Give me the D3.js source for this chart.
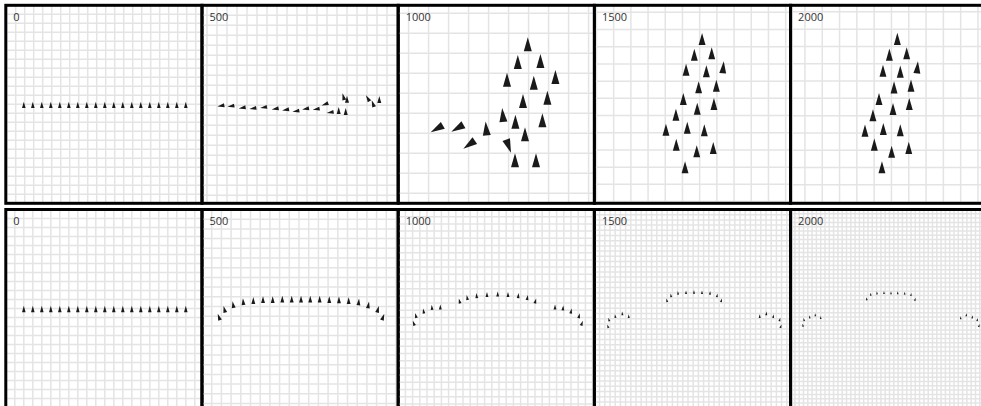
<!DOCTYPE html>
<html>
<head>
<meta charset="utf-8">
<script src="https://cdn.jsdelivr.net/npm/d3@7"></script>
<style>
body { margin: 0; background: #fff; }
</style>
</head>
<body>
<script>
var w = 981;
var h = 406;

// simulation step shown in each column
var steps = [0, 500, 1000, 1500, 2000];

// pixels per grid unit in each panel (top row follows the flock, bottom row is the fixed camera)
var zoomTop = [9, 10, 20, 17.2, 17.3];
var zoomBottom = [9, 9.7, 7.2, 5.2, 4.3];

// where the first grid line sits, as a fraction of a grid unit
var gridShiftTopX = [0.1, 0.5, 0.52, 0.12, 0.83];
var gridShiftTopY = [0, 0, 0.4, 0.41, 0.38];

// boid positions in grid units, measured from the panel's top left corner
var topX = [
  [2, 3, 4, 5, 6, 7, 8, 9, 10, 11, 12, 13, 14, 15, 16, 17, 18, 19, 20],
  [2.00, 3.00, 4.13, 5.20, 6.27, 7.43, 8.47, 9.50, 10.47, 11.53, 12.40, 12.93, 13.67, 14.37, 14.17, 14.50, 16.63, 17.13, 17.73],
  [2.03, 3.06, 3.64, 4.41, 5.24, 5.48, 5.86, 6.34, 5.84, 6.89, 5.44, 5.98, 6.48, 7.11, 6.78, 7.86, 6.24, 7.46, 7.21],
  [6.26, 5.81, 6.82, 5.33, 6.51, 7.48, 6.06, 7.09, 5.17, 5.98, 6.95, 4.74, 4.16, 5.40, 6.39, 4.76, 5.95, 6.91, 5.27],
  [6.17, 5.71, 6.71, 5.34, 6.34, 7.32, 5.98, 6.96, 5.11, 5.92, 6.86, 4.76, 4.30, 5.36, 6.34, 4.84, 5.84, 6.83, 5.28]
];
var topY = [
  [11.19, 11.19, 11.19, 11.19, 11.19, 11.19, 11.19, 11.19, 11.19, 11.19, 11.19, 11.19, 11.19, 11.19, 11.19, 11.19, 11.19, 11.19, 11.19],
  [10.04, 10.07, 10.24, 10.30, 10.20, 10.34, 10.44, 10.57, 10.34, 10.37, 9.87, 10.70, 10.64, 10.74, 9.24, 9.50, 9.40, 9.94, 9.54],
  [6.12, 6.09, 6.90, 6.27, 5.60, 6.94, 5.94, 6.57, 7.87, 7.87, 3.84, 2.95, 2.07, 2.90, 3.99, 3.70, 4.90, 4.74, 5.87],
  [2.08, 2.99, 2.91, 3.86, 3.95, 3.72, 4.88, 4.79, 5.56, 6.13, 5.85, 6.48, 7.35, 7.23, 7.38, 8.22, 8.60, 8.41, 9.53],
  [2.06, 2.97, 2.89, 3.90, 3.95, 3.70, 4.86, 4.76, 5.53, 6.11, 5.82, 6.47, 7.36, 7.27, 7.34, 8.17, 8.58, 8.36, 9.48]
];
// heading in degrees, clockwise from straight up
var topHeading = [
  [0, 0, 0, 0, 0, 0, 0, 0, 0, 0, 0, 0, 0, 0, 0, 0, 0, 0, 0],
  [-100, -100, -100, -100, -100, -100, -100, -100, -100, -100, -110, -100, 0, 0, -15, 0, -30, -20, 0],
  [-120, -120, -125, -5, -5, 160, 0, 0, 0, 0, 0, 0, 0, 0, 0, 0, 0, 0, 0],
  [0, 0, 0, 0, 0, 5, 0, 0, 0, 0, 0, 0, 0, 0, 0, 0, 0, 0, 0],
  [0, 0, 0, 0, 0, 5, 0, 0, 0, 0, 0, 0, 0, 0, 0, 0, 0, 0, 0]
];

var bottomX = [
  [2, 3, 4, 5, 6, 7, 8, 9, 10, 11, 12, 13, 14, 15, 16, 17, 18, 19, 20],
  [1.78, 2.34, 3.23, 4.26, 5.29, 6.29, 7.29, 8.28, 9.25, 10.21, 11.16, 12.13, 13.12, 14.12, 15.12, 16.15, 17.14, 18.11, 18.63],
  [2.19, 2.47, 3.54, 4.69, 5.85, 8.54, 9.60, 10.90, 12.33, 13.82, 15.25, 16.68, 17.93, 19.04, 21.78, 22.89, 24.00, 25.11, 25.49],
  [2.62, 2.81, 4.02, 5.37, 6.60, 13.96, 14.73, 16.08, 17.62, 19.15, 20.69, 22.23, 23.58, 24.40, 31.79, 33.06, 34.40, 35.63, 35.83],
  [2.88, 3.12, 4.44, 5.74, 7.00, 17.70, 18.63, 20.09, 21.72, 23.35, 24.91, 26.53, 28.00, 28.93, 39.56, 40.86, 42.26, 43.42, 43.81]
];
var bottomY = [
  [11.17, 11.17, 11.17, 11.17, 11.17, 11.17, 11.17, 11.17, 11.17, 11.17, 11.17, 11.17, 11.17, 11.17, 11.17, 11.17, 11.17, 11.17, 11.17],
  [11.19, 10.39, 9.92, 9.61, 9.50, 9.40, 9.40, 9.36, 9.36, 9.36, 9.36, 9.36, 9.40, 9.43, 9.51, 9.64, 9.95, 10.39, 11.19],
  [15.90, 14.82, 14.22, 13.71, 13.65, 12.82, 12.35, 12.07, 11.93, 11.85, 11.93, 12.07, 12.35, 12.82, 13.65, 13.79, 14.22, 14.86, 15.90],
  [22.54, 21.25, 20.62, 20.10, 20.62, 17.58, 16.62, 16.15, 16.04, 15.96, 16.04, 16.15, 16.62, 17.58, 20.62, 20.10, 20.62, 21.25, 22.54],
  [27.02, 25.70, 25.07, 24.60, 25.23, 20.88, 19.81, 19.49, 19.42, 19.49, 19.49, 19.58, 19.88, 20.98, 25.30, 24.60, 25.07, 25.70, 27.09]
];
var bottomHeading = [
  [0, 0, 0, 0, 0, 0, 0, 0, 0, 0, 0, 0, 0, 0, 0, 0, 0, 0, 0],
  [-20, -15, -10, -5, 0, 0, 0, 0, 0, 0, 0, 0, 0, 0, 0, 5, 10, 15, 20],
  [-20, -15, -10, -5, 0, -15, -10, -5, 0, 0, 0, 5, 10, 15, 0, 5, 10, 15, 20],
  [-20, -15, -10, -5, 0, -15, -10, -5, 0, 0, 0, 5, 10, 15, 0, 5, 10, 15, 20],
  [-20, -15, -10, -5, 0, -15, -10, -5, 0, 0, 0, 5, 10, 15, 0, 5, 10, 15, 20]
];

var panelW = 196.2;
var panelH = 198;
var left0 = 5.8;
var rowTop = [5.3, 209.5];

var boidLen = 0.7;   // grid units, nose to tail
var boidHalf = 0.2;  // grid units, half the tail width

var svg = d3.select("body")
  .append("svg")
    .attr("width", w)
    .attr("height", h);

var rows = [
  {zoom: zoomTop, xs: topX, ys: topY, hd: topHeading, sx: gridShiftTopX, sy: gridShiftTopY},
  {zoom: zoomBottom, xs: bottomX, ys: bottomY, hd: bottomHeading, sx: [0, 0, 0, 0, 0], sy: [0, 0, 0, 0, 0]}
];

rows.forEach(function(row, r) {
  steps.forEach(function(step, c) {
    var x0 = left0 + panelW * c;
    var y0 = rowTop[r];
    var k = row.zoom[c];

    var x = d3.scaleLinear().domain([0, panelW / k]).range([x0, x0 + panelW]);
    var y = d3.scaleLinear().domain([0, panelH / k]).range([y0, y0 + panelH]);

    var id = "clip" + r + "_" + c;
    svg.append("clipPath").attr("id", id)
      .append("rect")
        .attr("x", x0).attr("y", y0)
        .attr("width", panelW).attr("height", panelH);

    var g = svg.append("g").attr("clip-path", "url(#" + id + ")");

    //grid, one line per grid unit
    g.selectAll(".gx")
      .data(d3.range(row.sx[c], panelW / k + 1, 1))
      .enter().append("line")
        .attr("x1", function(d) { return x(d); })
        .attr("x2", function(d) { return x(d); })
        .attr("y1", y0).attr("y2", y0 + panelH)
        .attr("stroke", "#e4e4e4")
        .attr("stroke-width", 1.5);
    g.selectAll(".gy")
      .data(d3.range(row.sy[c], panelH / k + 1, 1))
      .enter().append("line")
        .attr("y1", function(d) { return y(d); })
        .attr("y2", function(d) { return y(d); })
        .attr("x1", x0).attr("x2", x0 + panelW)
        .attr("stroke", "#e4e4e4")
        .attr("stroke-width", 1.5);

    var boids = row.xs[c].map(function(bx, i) {
      return {x: bx, y: row.ys[c][i], a: row.hd[c][i] * Math.PI / 180};
    });

    //triangle pointing along the heading, centroid at the boid
    g.selectAll(".boid")
      .data(boids)
      .enter().append("path")
        .attr("d", function(d) {
          var fx = Math.sin(d.a), fy = -Math.cos(d.a);
          var px = -fy, py = fx;
          var pts = [
            [d.x + fx * boidLen * 2 / 3, d.y + fy * boidLen * 2 / 3],
            [d.x - fx * boidLen / 3 + px * boidHalf, d.y - fy * boidLen / 3 + py * boidHalf],
            [d.x - fx * boidLen / 3 - px * boidHalf, d.y - fy * boidLen / 3 - py * boidHalf]
          ];
          return "M" + pts.map(function(p) { return x(p[0]) + "," + y(p[1]); }).join("L") + "Z";
        })
        .attr("fill", "#1a1a1a");

    svg.append("text")
      .attr("x", x0 + 7.5)
      .attr("y", y0 + 15.7)
      .attr("font-family", "'Open Sans', 'Noto Sans', sans-serif")
      .attr("font-size", 11)
      .attr("fill", "#333")
      .text(step);

    svg.append("rect")
      .attr("x", x0).attr("y", y0)
      .attr("width", panelW).attr("height", panelH)
      .attr("fill", "none")
      .attr("stroke", "#000")
      .attr("stroke-width", 3);
  });
});
</script>
</body>
</html>
